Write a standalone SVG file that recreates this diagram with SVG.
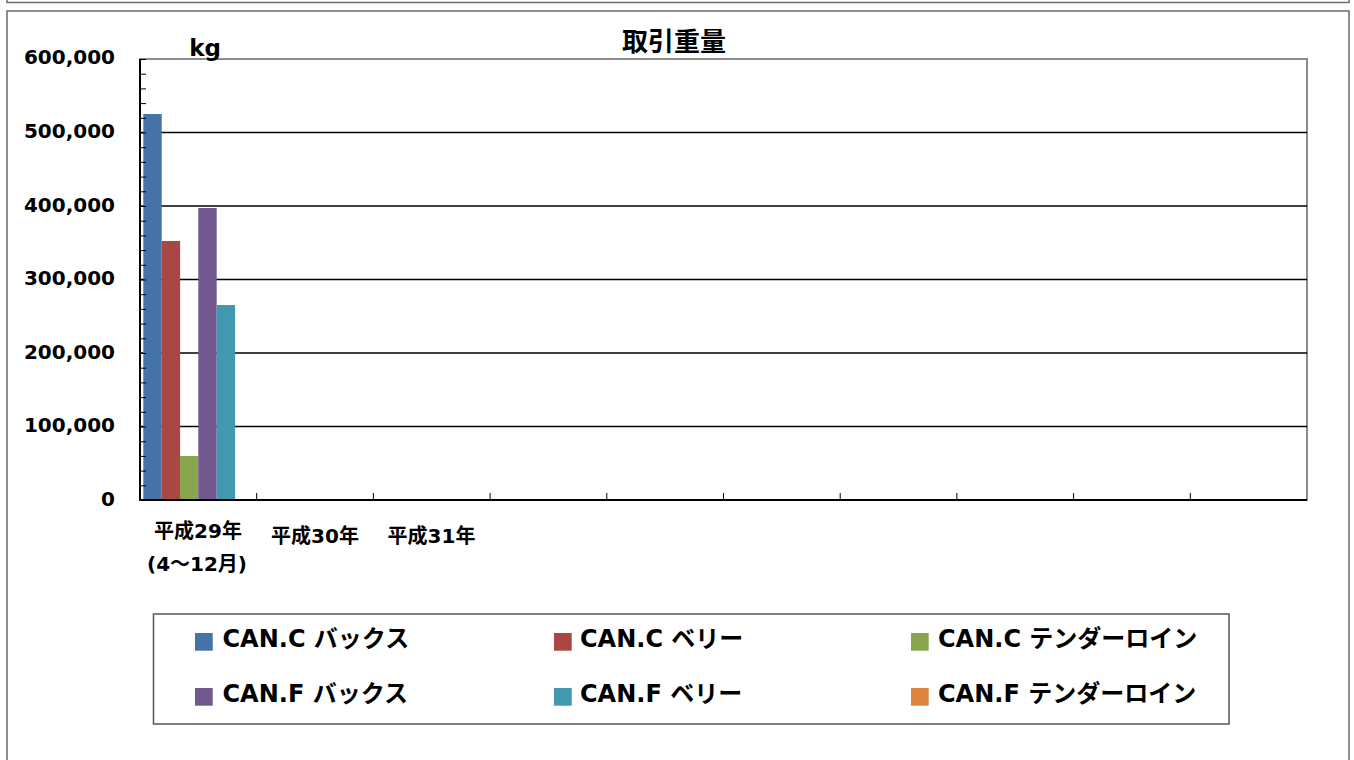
<svg xmlns="http://www.w3.org/2000/svg" width="1354" height="760" viewBox="0 0 1354 760">
<style>
.frame{fill:none;stroke:#6b6b6b;stroke-width:1.5}
.plot{fill:#fff;stroke:#8c8c8c;stroke-width:2}
.grid{stroke:#000;stroke-width:1.5}
.axis{stroke:#000;stroke-width:2;fill:none}
.tick{stroke:#000;stroke-width:1}
.ytxt{font-family:"DejaVu Sans","Noto Sans CJK JP",sans-serif;font-weight:bold;font-size:20px;text-anchor:end;fill:#000}
.xtxt{font-family:"DejaVu Sans","Noto Sans CJK JP",sans-serif;font-weight:bold;font-size:20px;text-anchor:middle;fill:#000}
.ttl{font-family:"Noto Sans CJK JP",sans-serif;font-weight:bold;font-size:26px;text-anchor:middle;fill:#000}
.lg{font-family:"DejaVu Sans","Noto Sans CJK JP",sans-serif;font-weight:bold;font-size:24px;fill:#000}
.c1{fill:#4572A7}.c2{fill:#AA4643}.c3{fill:#89A54E}.c4{fill:#71588F}.c5{fill:#4198AF}.c6{fill:#DB843D}
</style>
<rect width="1354" height="760" fill="#fff"/>
<rect class="frame" x="7" y="-10" width="1342" height="12.5"/>
<rect class="frame" x="7" y="11" width="1342" height="760"/>
<g id="title"><text class="ttl" x="674" y="51">取引重量</text></g>
<g id="plot-area">
<rect class="plot" x="140" y="59" width="1167" height="441"/>
<g id="gridlines">
<line class="grid" x1="140" y1="132.5" x2="1307" y2="132.5"/>
<line class="grid" x1="140" y1="206" x2="1307" y2="206"/>
<line class="grid" x1="140" y1="279.5" x2="1307" y2="279.5"/>
<line class="grid" x1="140" y1="353" x2="1307" y2="353"/>
<line class="grid" x1="140" y1="426.5" x2="1307" y2="426.5"/>
</g>
</g>
<g id="bars">
<rect class="c1" x="143.3" y="114" width="18.4" height="386"/>
<rect class="c2" x="161.7" y="241" width="18.4" height="259"/>
<rect class="c3" x="180" y="456" width="18.4" height="44"/>
<rect class="c4" x="198.3" y="208" width="18.4" height="292"/>
<rect class="c5" x="216.7" y="305" width="18.4" height="195"/>
<rect class="c6" x="235" y="499" width="18.4" height="1"/>
</g>
<g id="axes">
<line class="axis" x1="140" y1="59" x2="140" y2="501"/>
<line class="axis" x1="139" y1="500" x2="1307" y2="500"/>
<path class="tick" d="M140 59.5h6M140 74.2h6M140 88.9h6M140 103.6h6M140 118.3h6M140 133h6M140 147.7h6M140 162.4h6M140 177.1h6M140 191.8h6M140 206.5h6M140 221.2h6M140 235.9h6M140 250.6h6M140 265.3h6M140 280h6M140 294.7h6M140 309.4h6M140 324.1h6M140 338.8h6M140 353.5h6M140 368.2h6M140 382.9h6M140 397.6h6M140 412.3h6M140 427h6M140 441.7h6M140 456.4h6M140 471.1h6M140 485.8h6"/>
<path class="tick" d="M256.7 500v-7M373.4 500v-7M490.1 500v-7M606.8 500v-7M723.5 500v-7M840.2 500v-7M956.9 500v-7M1073.6 500v-7M1190.3 500v-7"/>
</g>
<g id="y-labels">
<text class="ytxt" x="115" y="64">600,000</text>
<text class="ytxt" x="115" y="138">500,000</text>
<text class="ytxt" x="115" y="211.5">400,000</text>
<text class="ytxt" x="115" y="285">300,000</text>
<text class="ytxt" x="115" y="358.5">200,000</text>
<text class="ytxt" x="115" y="432">100,000</text>
<text class="ytxt" x="115" y="505.5">0</text>
<text class="ytxt" x="221" y="56" style="font-size:23px">kg</text>
</g>
<g id="x-labels">
<text class="xtxt" x="198" y="538">平成29年</text>
<text class="xtxt" x="197" y="571">(4～12月)</text>
<text class="xtxt" x="315" y="543">平成30年</text>
<text class="xtxt" x="431.5" y="543">平成31年</text>
</g>
<g id="legend">
<rect x="153.5" y="614" width="1075.5" height="110" fill="#fff" stroke="#555" stroke-width="1.5"/>
<g id="lg1"><rect class="c1" x="195" y="633" width="17.7" height="17.7"/><text class="lg" x="222.5" y="647">CAN.C バックス</text></g>
<g id="lg2"><rect class="c2" x="554" y="633" width="17.7" height="17.7"/><text class="lg" x="580" y="647">CAN.C ベリー</text></g>
<g id="lg3"><rect class="c3" x="911" y="633" width="17.7" height="17.7"/><text class="lg" x="938" y="647">CAN.C テンダーロイン</text></g>
<g id="lg4"><rect class="c4" x="195" y="688" width="17.7" height="17.7"/><text class="lg" x="222.5" y="702">CAN.F バックス</text></g>
<g id="lg5"><rect class="c5" x="554" y="688" width="17.7" height="17.7"/><text class="lg" x="580" y="702">CAN.F ベリー</text></g>
<g id="lg6"><rect class="c6" x="911" y="688" width="17.7" height="17.7"/><text class="lg" x="938" y="702">CAN.F テンダーロイン</text></g>
</g>
</svg>
